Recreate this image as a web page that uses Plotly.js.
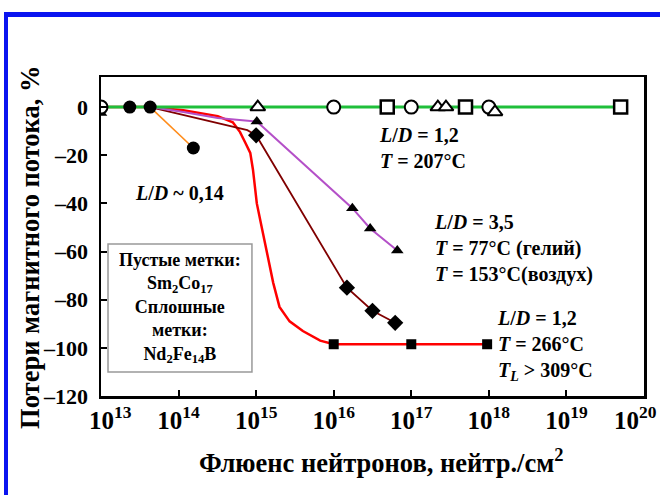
<!DOCTYPE html>
<html>
<head>
<meta charset="utf-8">
<script src="https://cdn.plot.ly/plotly-3.0.1.min.js"></script>
<style>
  html, body { margin: 0; padding: 0; background: #fff; }
  #wrap { position: relative; width: 660px; height: 495px; overflow: hidden; }
  #chart { position: absolute; left: 0; top: 0; width: 660px; height: 495px; }
  #frame { position: absolute; left: 4px; top: 12px; width: 700px; height: 600px;
           border-left: 4px solid #0a14f0; border-top: 5px solid #0a14f0; pointer-events: none; }
</style>
</head>
<body>
<div id="wrap"><div id="chart"></div><div id="frame"></div></div>
<script>
// ---------- data ----------
// Sm2Co17 (open markers) on the green reference line
const greenX = [1e13, 5e19];
const greenY = [0, 0];
const openCircleX = [1e13, 1e16, 1e17, 1e18];
const openCircleY = [0, 0, 0, 0];
const openSquareX = [4.9e16, 5e17, 5e19];
const openSquareY = [0, 0, 0];
const openTriX = [1.05e15, 2.2e17, 2.8e17, 1.2e18];
const openTriY = [0, 0, 0, -2];

// Nd2Fe14B (filled markers)
const filledCircleX = [2.35e13, 4.3e13, 1.55e14];
const filledCircleY = [0, 0, -17];
const orangeX = [4.3e13, 1.55e14];
const orangeY = [0, -17];

const purpleX = [4.3e13, 1.15e14, 3.2e14, 1.02e15, 1.74e16, 2.95e16, 6.6e16];
const purpleY = [0, -2, -4.5, -6, -42, -50.4, -59.6];
const filledTriX = [1e13, 1.02e15, 1.74e16, 2.95e16, 6.6e16];
const filledTriY = [-2.5, -6, -42, -50.4, -59.6];

const brownX = [4.3e13, 1.15e14, 3.2e14, 7.7e14, 1.0e15, 1.48e16, 3.16e16, 6.2e16];
const brownY = [0, -3.3, -6.7, -9.6, -11.7, -75, -84.6, -89.6];
const diamondX = [1.0e15, 1.48e16, 3.16e16, 6.2e16];
const diamondY = [-11.7, -75, -84.6, -89.6];

const redX = [1e13, 4.3e13, 1.15e14, 3.2e14, 5.0e14, 6.2e14, 7.2e14, 8.4e14, 9.1e14, 1.02e15,
              1.2e15, 1.4e15, 1.66e15, 2.0e15, 2.7e15, 4.0e15, 6.7e15, 1e16, 1e17, 9.5e17];
const redY = [0, 0, -1.3, -3.75, -6.3, -10.4, -14.6, -19, -26, -40,
              -51, -61, -73, -83, -89, -93, -97, -98.5, -98.5, -98.5];
const filledSquareX = [1e16, 1e17, 9.5e17];
const filledSquareY = [-98.5, -98.5, -98.5];

// ---------- ticks ----------
const xTickVals = [1e13, 1e14, 1e15, 1e16, 1e17, 1e18, 1e19, 1e20];
const xTickText = ['10<sup>13</sup>', '10<sup>14</sup>', '10<sup>15</sup>', '10<sup>16</sup>',
                   '10<sup>17</sup>', '10<sup>18</sup>', '10<sup>19</sup>', '10<sup>20</sup>'];
const yTickVals = [0, -20, -40, -60, -80, -100, -120];
const yTickText = ['0', '–20', '–40', '–60', '–80', '–100', '–120'];

const FONT = '"Liberation Serif", "Times New Roman", serif';
const bold = s => '<b>' + s + '</b>';

function line(x, y, color, width) {
  return { x, y, type: 'scatter', mode: 'lines', line: { color, width }, hoverinfo: 'skip', showlegend: false };
}
function marks(x, y, symbol, size, fill, lw) {
  return { x, y, type: 'scatter', mode: 'markers', showlegend: false,
           marker: { symbol, size, color: fill, line: { color: '#000', width: lw } } };
}

const traces = [
  line(redX, redY, '#ff0000', 2.5),
  line(brownX, brownY, '#800000', 1.8),
  line(purpleX, purpleY, '#b450c8', 2),
  line(orangeX, orangeY, '#ff8c1a', 1.6),
  line(greenX, greenY, '#1fbf3a', 3),
  marks(filledTriX, filledTriY, 'triangle-up', 11, '#000', 0),
  marks(openCircleX, openCircleY, 'circle', 13, '#fff', 2),
  marks(openSquareX, openSquareY, 'square', 13, '#fff', 2.5),
  marks(openTriX, openTriY, 'triangle-up', 13, '#fff', 2),
  marks(filledCircleX, filledCircleY, 'circle', 13, '#000', 0),
  marks(diamondX, diamondY, 'diamond', 12.5, '#000', 0),
  marks(filledSquareX, filledSquareY, 'square', 10, '#000', 0)
];

// edge tick labels are drawn as annotations so they stay inside the picture
const xTickTextShown = xTickText.map((t, i) => (i === 0 || i === xTickText.length - 1) ? '' : bold(t));

const LD = '<i>L</i>/<i>D</i>';
const annFont = { family: FONT, size: 20, color: '#000' };
const annotations = [
  { x: 13.41, y: -35.8, text: bold(LD + ' ~ 0,14') },
  { x: 16.56, y: -16.9, text: bold(LD + ' = 1,2<br><i>T</i> = 207°C') },
  { x: 17.27, y: -58.75, text: bold(LD + ' = 3,5<br><i>T</i> = 77°C (гелий)<br><i>T</i> = 153°C(воздух)') },
  { x: 18.08, y: -99.2, text: bold(LD + ' = 1,2<br><i>T</i> = 266°C<br><i>T<sub>L</sub></i> > 309°C') }
].map(a => Object.assign({ xref: 'x', yref: 'y', xanchor: 'left', yanchor: 'middle', align: 'left',
                           showarrow: false, font: annFont }, a));

const tickAnnFont = { family: FONT, size: 25, color: '#000' };
annotations.push({ x: 0.017, y: -0.013, xref: 'paper', yref: 'paper', xanchor: 'center', yanchor: 'top',
                   showarrow: false, font: tickAnnFont, text: bold(xTickText[0]) });
annotations.push({ x: 0.985, y: -0.013, xref: 'paper', yref: 'paper', xanchor: 'center', yanchor: 'top',
                   showarrow: false, font: tickAnnFont, text: bold(xTickText[xTickText.length - 1]) });

annotations.push({
  x: 0.145, y: 0.276, xref: 'paper', yref: 'paper', xanchor: 'center', yanchor: 'middle', align: 'center',
  showarrow: false, font: { family: FONT, size: 18, color: '#000' },
  text: bold('Пустые метки:<br>Sm<sub>2</sub>Co<sub>17</sub><br>Сплошные<br>метки:<br>Nd<sub>2</sub>Fe<sub>14</sub>B')
});
annotations.push({
  x: -0.131, y: 0.467, xref: 'paper', yref: 'paper', xanchor: 'center', yanchor: 'middle',
  textangle: -90, showarrow: false, font: { family: FONT, size: 26.5, color: '#000' },
  text: bold('Потери магнитного потока, %')
});
annotations.push({
  x: 0.515, y: -0.205, xref: 'paper', yref: 'paper', xanchor: 'center', yanchor: 'middle',
  showarrow: false, font: { family: FONT, size: 26.5, color: '#000' },
  text: bold('Флюенс нейтронов, нейтр./см<sup>2</sup>')
});

const leader = (x0, y0, x1, y1) => ({ type: 'line', xref: 'x', yref: 'y', x0, y0, x1, y1,
                                      line: { color: '#222', width: 1.2, dash: 'dash' } });
const shapes = [
  leader(13.98, -27.1, 14.11, -22.1),
  leader(16.37, -2.5, 16.47, -8.3),
  leader(16.95, -56.25, 17.25, -45.8),
  leader(16.95, -84.6, 17.22, -70),
  { type: 'rect', xref: 'paper', yref: 'paper', x0: 0.0129, x1: 0.278, y0: 0.075, y1: 0.4765,
    line: { color: '#999', width: 1.5 }, fillcolor: 'rgba(0,0,0,0)' }
];

const layout = {
  width: 660, height: 495,
  margin: { l: 101, r: 16, t: 77, b: 99 },
  paper_bgcolor: '#fff', plot_bgcolor: '#fff',
  font: { family: FONT, color: '#000' },
  showlegend: false,
  xaxis: {
    type: 'log', range: [13, 20], tickmode: 'array', tickvals: xTickVals, ticktext: xTickTextShown,
    ticks: 'inside', ticklen: 6, tickwidth: 2, tickcolor: '#000',
    showline: true, linewidth: 2.5, linecolor: '#000', mirror: true,
    showgrid: false, zeroline: false, tickfont: { family: FONT, size: 25, color: '#000' },
    ticklabelstandoff: 0
  },
  yaxis: {
    range: [-120, 12.5], tickmode: 'array', tickvals: yTickVals, ticktext: yTickText.map(bold),
    ticks: 'inside', ticklen: 6, tickwidth: 2, tickcolor: '#000',
    showline: true, linewidth: 2.5, linecolor: '#000', mirror: true,
    showgrid: false, zeroline: false, tickfont: { family: FONT, size: 22, color: '#000' },
    ticklabelstandoff: 6
  },
  annotations, shapes
};

Plotly.newPlot('chart', traces, layout, { displayModeBar: false, staticPlot: true });
</script>
</body>
</html>
